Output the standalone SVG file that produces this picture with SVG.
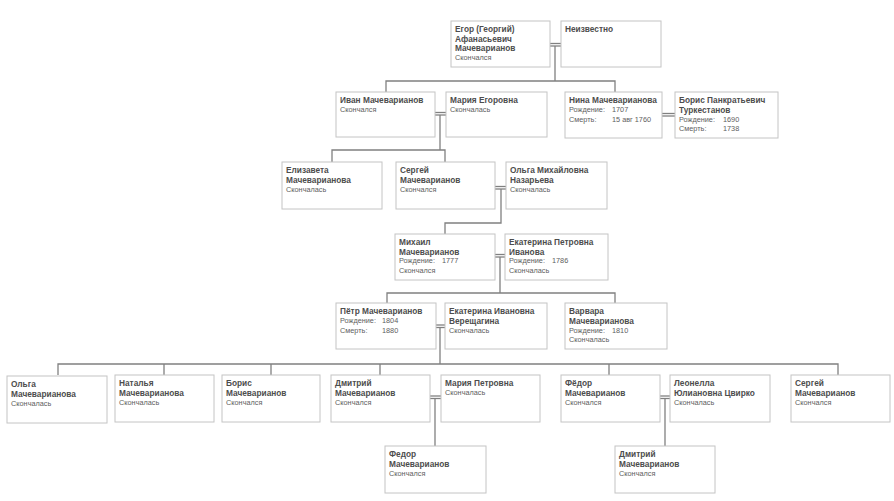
<svg xmlns="http://www.w3.org/2000/svg" width="894" height="501" viewBox="0 0 894 501">
<style>
.box{fill:#fff;stroke:#c4c4c4;stroke-width:1}
.n{font-family:"Liberation Sans",Arial,sans-serif;font-size:8.3px;font-weight:bold;fill:#4d4d4d}
.s{font-family:"Liberation Sans",Arial,sans-serif;font-size:7.3px;fill:#5e5e5e}
.c line,.c path{stroke:#808080;stroke-width:1.3;fill:none}
</style>
<rect width="894" height="501" fill="#fff"/>
<g class="c" id="connectors">
<line x1="550" y1="43.5" x2="561" y2="43.5"/><line x1="550" y1="46" x2="561" y2="46"/>
<path d="M555 46V81M386 92V81H615V92"/>
<line x1="435" y1="112.5" x2="446" y2="112.5"/><line x1="435" y1="115" x2="446" y2="115"/>
<path d="M440 115V150M332 162V150H445V162"/>
<line x1="662" y1="113.5" x2="675" y2="113.5"/><line x1="662" y1="116" x2="675" y2="116"/>
<line x1="495" y1="186.5" x2="506" y2="186.5"/><line x1="495" y1="189" x2="506" y2="189"/>
<path d="M501 189V223H445V234"/>
<line x1="495" y1="254.5" x2="505" y2="254.5"/><line x1="495" y1="257" x2="505" y2="257"/>
<path d="M500 257V293M387 303V293H615V303"/>
<line x1="436" y1="325" x2="445" y2="325"/><line x1="436" y1="327.5" x2="445" y2="327.5"/>
<path d="M440 327.5V364M58 375V364H838V375M164 364V375M271 364V375M380 364V375M609 364V375"/>
<line x1="430" y1="396" x2="441" y2="396"/><line x1="430" y1="398.5" x2="441" y2="398.5"/>
<path d="M435 398.5V446"/>
<line x1="660" y1="396" x2="670" y2="396"/><line x1="660" y1="398.5" x2="670" y2="398.5"/>
<path d="M665 398.5V446"/>
</g>
<g id="egor"><rect class="box" x="451" y="21" width="99" height="46"/><text class="n" x="455" y="32">Егор (Георгий)</text><text class="n" x="455" y="41.5">Афанасьевич</text><text class="n" x="455" y="51">Мачеварианов</text><text class="s" x="455" y="60">Скончался</text></g>
<g id="neizv"><rect class="box" x="561" y="21" width="100" height="46"/><text class="n" x="565" y="32">Неизвестно</text></g>
<g id="ivan"><rect class="box" x="336" y="92" width="99" height="45"/><text class="n" x="340" y="103">Иван Мачеварианов</text><text class="s" x="340" y="112">Скончался</text></g>
<g id="mariaE"><rect class="box" x="446" y="92" width="101" height="45"/><text class="n" x="450" y="103">Мария Егоровна</text><text class="s" x="450" y="112">Скончалась</text></g>
<g id="nina"><rect class="box" x="565" y="92" width="97" height="46"/><text class="n" x="569" y="103">Нина Мачеварианова</text><text class="s" x="569" y="112">Рождение:</text><text class="s" x="612" y="112">1707</text><text class="s" x="569" y="122">Смерть:</text><text class="s" x="612" y="122">15 авг 1760</text></g>
<g id="borisT"><rect class="box" x="675" y="92" width="103" height="46"/><text class="n" x="679" y="103">Борис Панкратьевич</text><text class="n" x="679" y="112.5">Туркестанов</text><text class="s" x="679" y="121.5">Рождение:</text><text class="s" x="723" y="121.5">1690</text><text class="s" x="679" y="131">Смерть:</text><text class="s" x="723" y="131">1738</text></g>
<g id="elizaveta"><rect class="box" x="282" y="162" width="100" height="47"/><text class="n" x="286" y="173">Елизавета</text><text class="n" x="286" y="182.5">Мачеварианова</text><text class="s" x="286" y="191.5">Скончалась</text></g>
<g id="sergey1"><rect class="box" x="396" y="162" width="99" height="47"/><text class="n" x="400" y="173">Сергей</text><text class="n" x="400" y="182.5">Мачеварианов</text><text class="s" x="400" y="191.5">Скончался</text></g>
<g id="olgaN"><rect class="box" x="506" y="162" width="101" height="47"/><text class="n" x="510" y="173">Ольга Михайловна</text><text class="n" x="510" y="182.5">Назарьева</text><text class="s" x="510" y="191.5">Скончалась</text></g>
<g id="mikhail"><rect class="box" x="395" y="234" width="100" height="46"/><text class="n" x="399" y="245">Михаил</text><text class="n" x="399" y="254.5">Мачеварианов</text><text class="s" x="399" y="263">Рождение:</text><text class="s" x="442" y="263">1777</text><text class="s" x="399" y="272.5">Скончался</text></g>
<g id="ekaterinaP"><rect class="box" x="505" y="234" width="103" height="46"/><text class="n" x="509" y="245">Екатерина Петровна</text><text class="n" x="509" y="254.5">Иванова</text><text class="s" x="509" y="263">Рождение:</text><text class="s" x="552" y="263">1786</text><text class="s" x="509" y="272.5">Скончалась</text></g>
<g id="petr"><rect class="box" x="336" y="303" width="100" height="46"/><text class="n" x="340" y="314">Пётр Мачеварианов</text><text class="s" x="340" y="323">Рождение:</text><text class="s" x="382" y="323">1804</text><text class="s" x="340" y="333">Смерть:</text><text class="s" x="382" y="333">1880</text></g>
<g id="ekaterinaI"><rect class="box" x="445" y="303" width="102" height="46"/><text class="n" x="449" y="314">Екатерина Ивановна</text><text class="n" x="449" y="323.5">Верещагина</text><text class="s" x="449" y="332.5">Скончалась</text></g>
<g id="varvara"><rect class="box" x="565" y="303" width="102" height="46"/><text class="n" x="569" y="314">Варвара</text><text class="n" x="569" y="323.5">Мачеварианова</text><text class="s" x="569" y="332.5">Рождение:</text><text class="s" x="612" y="332.5">1810</text><text class="s" x="569" y="342">Скончалась</text></g>
<g id="olga2"><rect class="box" x="7" y="376" width="100" height="47"/><text class="n" x="11" y="387">Ольга</text><text class="n" x="11" y="396.5">Мачеварианова</text><text class="s" x="11" y="405.5">Скончалась</text></g>
<g id="natalya"><rect class="box" x="115" y="375" width="99" height="47"/><text class="n" x="119" y="386">Наталья</text><text class="n" x="119" y="395.5">Мачеварианова</text><text class="s" x="119" y="404.5">Скончалась</text></g>
<g id="boris2"><rect class="box" x="222" y="375" width="98" height="47"/><text class="n" x="226" y="386">Борис</text><text class="n" x="226" y="395.5">Мачеварианов</text><text class="s" x="226" y="404.5">Скончался</text></g>
<g id="dmitriy1"><rect class="box" x="331" y="375" width="99" height="47"/><text class="n" x="335" y="386">Дмитрий</text><text class="n" x="335" y="395.5">Мачеварианов</text><text class="s" x="335" y="404.5">Скончался</text></g>
<g id="mariaP"><rect class="box" x="441" y="375" width="99" height="47"/><text class="n" x="445" y="386">Мария Петровна</text><text class="s" x="445" y="395">Скончалась</text></g>
<g id="fedor1"><rect class="box" x="561" y="375" width="99" height="47"/><text class="n" x="565" y="386">Фёдор</text><text class="n" x="565" y="395.5">Мачеварианов</text><text class="s" x="565" y="404.5">Скончался</text></g>
<g id="leonella"><rect class="box" x="670" y="375" width="100" height="47"/><text class="n" x="674" y="386">Леонелла</text><text class="n" x="674" y="395.5">Юлиановна Цвирко</text><text class="s" x="674" y="404.5">Скончалась</text></g>
<g id="sergey2"><rect class="box" x="791" y="375" width="99" height="47"/><text class="n" x="795" y="386">Сергей</text><text class="n" x="795" y="395.5">Мачеварианов</text><text class="s" x="795" y="404.5">Скончался</text></g>
<g id="fedor2"><rect class="box" x="385" y="446" width="101" height="47"/><text class="n" x="389" y="457">Федор</text><text class="n" x="389" y="466.5">Мачеварианов</text><text class="s" x="389" y="475.5">Скончался</text></g>
<g id="dmitriy2"><rect class="box" x="615" y="446" width="100" height="47"/><text class="n" x="619" y="457">Дмитрий</text><text class="n" x="619" y="466.5">Мачеварианов</text><text class="s" x="619" y="475.5">Скончался</text></g>
</svg>
